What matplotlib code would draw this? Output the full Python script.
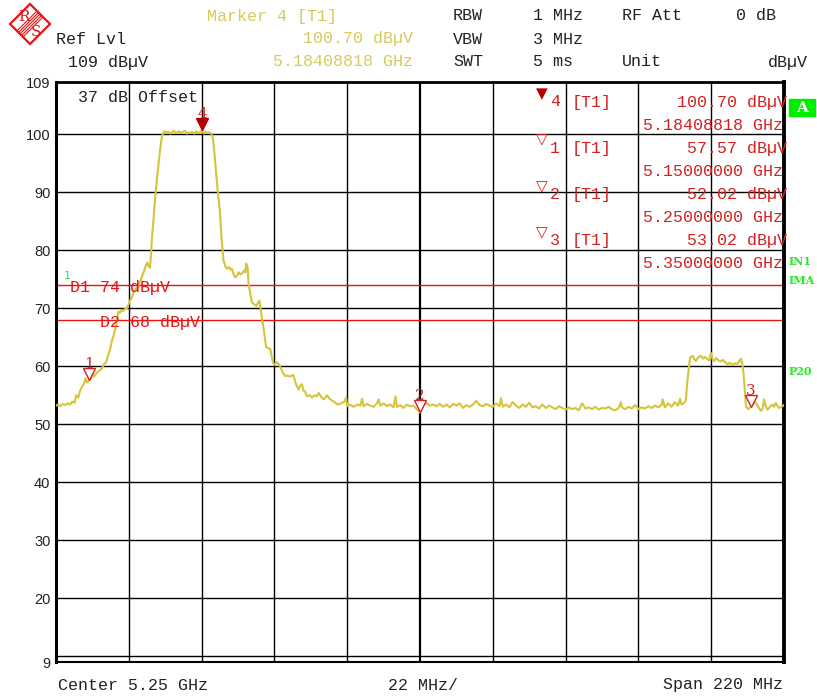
import matplotlib
matplotlib.use("Agg")
import matplotlib.pyplot as plt
import matplotlib.transforms as mtransforms
from matplotlib.patches import Polygon, Rectangle
from matplotlib.lines import Line2D

W, H = 817, 696

# sweep: (frequency MHz, level dBuV)
trace = [
    (5140.0, 53.2), (5140.7, 53.4), (5141.4, 53.1), (5142.1, 53.5), (5142.8, 53.3),
    (5143.5, 53.6), (5144.2, 53.4), (5144.9, 53.9), (5145.6, 53.7), (5146.1, 55.0),
    (5146.7, 54.6), (5147.3, 55.8), (5147.9, 56.5), (5148.5, 57.0), (5148.9, 57.9),
    (5149.4, 57.2), (5150.0, 57.57), (5150.5, 57.9), (5151.0, 58.8), (5151.5, 58.2),
    (5152.0, 58.6), (5152.6, 59.0), (5153.3, 59.3), (5153.9, 59.6), (5154.5, 60.4),
    (5155.1, 60.6), (5155.7, 61.8), (5156.3, 62.8), (5156.9, 64.4), (5157.4, 65.3),
    (5157.9, 66.4), (5158.4, 67.8), (5158.8, 69.4), (5159.3, 69.2), (5159.8, 69.7),
    (5160.3, 69.5), (5160.9, 69.9), (5161.5, 70.0), (5162.0, 70.8), (5162.4, 71.3),
    (5163.0, 72.0), (5163.6, 72.9), (5164.2, 73.4), (5164.8, 73.7), (5165.4, 74.6),
    (5166.0, 75.5), (5166.6, 76.4), (5167.2, 77.4), (5167.6, 77.9), (5168.0, 77.2),
    (5168.4, 77.0), (5168.7, 79.0), (5169.0, 82.2), (5169.5, 85.5), (5170.0, 89.2),
    (5170.5, 92.3), (5171.0, 94.9), (5171.5, 97.5), (5172.0, 99.6), (5172.5, 100.3),
    (5173.0, 100.5), (5173.5, 100.2), (5174.0, 100.4), (5174.5, 100.1), (5175.0, 100.3),
    (5175.6, 100.6), (5176.1, 100.2), (5176.7, 100.3), (5177.2, 100.5), (5177.8, 100.2),
    (5178.3, 100.4), (5178.9, 100.6), (5179.5, 100.1), (5180.0, 100.3), (5180.6, 100.2),
    (5181.2, 100.4), (5181.8, 100.1), (5182.4, 100.5), (5183.0, 100.2), (5183.6, 100.4),
    (5184.088, 100.70), (5184.6, 100.1), (5185.2, 100.4), (5185.8, 100.2), (5186.3, 100.3),
    (5186.9, 100.1), (5187.4, 99.4), (5188.0, 96.0), (5188.5, 92.6), (5189.0, 89.5),
    (5189.5, 86.9), (5190.0, 82.3), (5190.6, 78.3), (5191.2, 77.2), (5191.7, 76.8),
    (5192.3, 77.1), (5192.8, 76.6), (5193.2, 76.8), (5193.7, 75.8), (5194.2, 75.3),
    (5194.7, 75.6), (5195.2, 76.2), (5195.7, 75.8), (5196.2, 76.0), (5196.8, 76.5),
    (5197.2, 76.2), (5197.5, 77.7), (5197.9, 77.0), (5198.2, 74.2), (5198.7, 72.5),
    (5199.2, 71.0), (5199.8, 70.7), (5200.5, 70.4), (5201.0, 70.9), (5201.5, 71.3),
    (5201.9, 69.6), (5202.3, 68.0), (5202.7, 66.7), (5203.1, 65.0), (5203.5, 63.3),
    (5204.1, 63.1), (5204.8, 62.9), (5205.2, 61.6), (5205.6, 60.6), (5206.2, 60.2),
    (5206.7, 60.7), (5207.3, 60.4), (5208.0, 59.6), (5208.6, 58.8), (5209.3, 58.3),
    (5210.0, 58.4), (5210.8, 58.2), (5211.6, 58.5), (5212.0, 58.0), (5212.6, 56.8),
    (5213.3, 56.0), (5213.8, 56.6), (5214.3, 56.9), (5214.8, 55.8), (5215.3, 55.6),
    (5215.9, 54.8), (5216.6, 55.0), (5217.4, 54.6), (5218.1, 55.0), (5218.8, 54.8),
    (5219.4, 55.4), (5220.1, 54.7), (5220.9, 54.3), (5221.4, 54.6), (5221.9, 55.0),
    (5222.6, 54.4), (5223.4, 54.1), (5224.2, 53.8), (5225.1, 53.4), (5225.8, 53.5),
    (5226.5, 53.7), (5227.2, 53.9), (5227.7, 54.6), (5228.0, 53.1), (5228.5, 53.4),
    (5229.0, 53.3), (5230.0, 53.0), (5231.0, 53.4), (5232.0, 53.2), (5232.5, 54.4),
    (5233.0, 53.1), (5234.0, 53.5), (5235.0, 53.2), (5236.0, 53.0), (5237.0, 53.6),
    (5237.5, 54.3), (5238.0, 53.2), (5239.0, 53.6), (5240.0, 53.1), (5241.0, 53.4),
    (5242.0, 52.9), (5242.6, 54.8), (5243.0, 53.0), (5244.0, 53.3), (5245.0, 52.8),
    (5246.0, 53.4), (5247.0, 53.1), (5248.0, 53.2), (5249.0, 52.6), (5250.0, 52.02),
    (5251.0, 53.3), (5252.0, 53.6), (5253.0, 53.2), (5254.0, 53.4), (5255.0, 53.1),
    (5256.0, 53.5), (5257.0, 53.0), (5258.0, 53.4), (5259.0, 52.9), (5260.0, 53.5),
    (5261.0, 53.2), (5262.0, 53.6), (5263.0, 52.8), (5264.0, 53.3), (5265.0, 53.0),
    (5266.0, 53.4), (5267.0, 54.0), (5268.0, 53.3), (5269.0, 53.1), (5270.0, 53.5),
    (5271.0, 53.2), (5272.0, 53.0), (5273.0, 53.6), (5274.0, 53.1), (5274.5, 54.5),
    (5275.0, 53.0), (5276.0, 53.4), (5277.0, 52.9), (5278.0, 53.8), (5279.0, 53.2),
    (5280.0, 52.8), (5281.0, 53.4), (5282.0, 53.0), (5283.0, 53.7), (5284.0, 52.9),
    (5285.0, 53.1), (5286.0, 52.7), (5287.0, 53.4), (5288.0, 52.8), (5289.0, 53.2),
    (5290.0, 52.9), (5291.0, 52.6), (5292.0, 53.1), (5293.0, 52.8), (5294.0, 52.5),
    (5295.0, 52.9), (5296.0, 52.6), (5297.0, 52.8), (5298.0, 52.4), (5299.0, 53.6),
    (5300.0, 52.7), (5301.0, 52.9), (5302.0, 52.6), (5303.0, 53.0), (5304.0, 52.5),
    (5305.0, 52.8), (5306.0, 52.7), (5307.0, 53.0), (5308.0, 52.6), (5309.0, 52.4),
    (5310.0, 52.8), (5310.7, 53.8), (5311.0, 52.9), (5312.0, 52.6), (5313.0, 53.0),
    (5314.0, 52.7), (5315.0, 53.3), (5316.0, 52.6), (5317.0, 52.9), (5318.0, 52.7),
    (5319.0, 53.1), (5320.0, 52.8), (5321.0, 53.2), (5322.0, 52.9), (5323.0, 53.3),
    (5323.3, 54.3), (5324.0, 52.9), (5325.0, 53.6), (5326.0, 53.0), (5327.0, 53.8),
    (5328.0, 53.2), (5328.6, 54.4), (5329.0, 53.4), (5329.7, 53.6), (5330.3, 54.0),
    (5330.8, 57.4), (5331.6, 61.5), (5332.4, 61.8), (5332.9, 61.2), (5333.4, 60.9),
    (5334.0, 61.5), (5334.9, 61.8), (5335.5, 61.3), (5336.0, 61.6), (5336.9, 61.2),
    (5337.4, 61.0), (5337.9, 62.3), (5338.4, 61.2), (5338.9, 60.9), (5339.5, 61.4),
    (5340.2, 61.0), (5340.9, 60.8), (5341.5, 61.1), (5342.2, 60.7), (5342.9, 60.3),
    (5343.6, 60.6), (5344.5, 60.2), (5345.2, 60.5), (5346.0, 60.4), (5346.5, 60.9),
    (5347.0, 61.3), (5347.5, 60.0), (5347.8, 58.6), (5348.5, 53.1), (5349.2, 52.6),
    (5350.0, 53.02), (5350.7, 53.5), (5351.5, 53.7), (5352.2, 53.0), (5353.0, 52.3),
    (5353.5, 52.6), (5354.0, 54.3), (5354.5, 53.1), (5355.0, 52.5), (5355.8, 53.0),
    (5356.5, 53.4), (5357.0, 53.0), (5357.5, 53.7), (5358.0, 53.2), (5358.5, 52.8),
    (5359.2, 53.0), (5360.0, 53.3),
]
trace_freq = [p[0] for p in trace]
trace_level = [p[1] for p in trace]

# marker table, in screen order
marker_ids = ['4', '1', '2', '3']
marker_freq = [5184.08818, 5150.0, 5250.0, 5350.0]
marker_level = [100.70, 57.57, 52.02, 53.02]

display_names = ['D1', 'D2']
display_levels = [74, 68]

y_ticks = [9, 20, 30, 40, 50, 60, 70, 80, 90, 100, 109]
grid_levels = [10, 20, 30, 40, 50, 60, 70, 80, 90, 100]
grid_freqs = [5162, 5184, 5206, 5228, 5250, 5272, 5294, 5316, 5338]

TRACE = '#d6c43a'
YEL = '#d9c95c'
RED = '#d42020'
DRED = '#b00000'
INK = '#222222'
GREEN = '#22ee22'
MONO = 'Liberation Mono'
FS = 12

fig = plt.figure(figsize=(W / 100, H / 100), dpi=100)

def ftext(x, y, s, **kw):
    kw.setdefault('family', MONO)
    kw.setdefault('fontsize', FS)
    kw.setdefault('color', INK)
    fig.text(x / W, 1 - y / H, s, va='center', **kw)

def fxy(x, y):
    return (x / W, 1 - y / H)

ax = fig.add_axes([56 / W, (H - 662) / H, 728 / W, 580 / H])
ax.set_xlim(5140, 5360)
ax.set_ylim(9, 109)

for g in grid_levels:
    ax.axhline(g, color='black', lw=1.0, zorder=1)
for g in grid_freqs:
    ax.axvline(g, color='black', lw=1.6 if g == 5250 else 1.0, zorder=1)

for lvl in display_levels:
    ax.axhline(lvl, color='#ee1111', lw=1.0, zorder=2)

ax.plot(trace_freq, trace_level, color=TRACE, lw=1.5, zorder=3)

# markers sitting on the trace
up = mtransforms.offset_copy(ax.transData, fig=fig, x=0, y=6, units='dots')
for mid, f, v in zip(marker_ids, marker_freq, marker_level):
    filled = mid == '4'
    ax.plot([f], [v], marker='v', ms=8, transform=up, zorder=5,
            mfc=DRED if filled else 'white', mec=DRED if filled else RED, mew=1.0)
    ax.annotate(mid, (f, v), xytext=(0, 16), textcoords='offset pixels',
                ha='center', va='center', color=RED, fontsize=11, family='DejaVu Serif')

ax.set_xticks([])
ax.set_yticks(y_ticks)
ax.set_yticklabels([str(t) for t in y_ticks], family='Liberation Sans', fontsize=10.5, color=INK)
ax.tick_params(axis='y', length=0, pad=4)
for side, lw in [('left', 2.2), ('right', 2.8), ('top', 2.0), ('bottom', 1.5)]:
    ax.spines[side].set_linewidth(lw)

# R&S logo
cx, cy, r = 30, 24, 20
fig.add_artist(Polygon([fxy(cx, cy - r), fxy(cx + r, cy), fxy(cx, cy + r), fxy(cx - r, cy)],
                       closed=True, fill=False, edgecolor='#ee1111', lw=1.6,
                       transform=fig.transFigure))
for d in (-3, -1.5, 0, 1.5, 3):
    fig.add_artist(Line2D([(cx + 10 + d) / W, (cx - 10 + d) / W],
                          [1 - (cy - 10 + d) / H, 1 - (cy + 10 + d) / H],
                          color='#ee1111', lw=0.8, transform=fig.transFigure))
ftext(24, 17, 'R', color='#ee1111', fontsize=11, family='DejaVu Serif', ha='center')
ftext(36, 32, 'S', color='#ee1111', fontsize=11, family='DejaVu Serif', ha='center')

# header block
ftext(207, 16, 'Marker 4 [T1]', color=YEL)
ftext(453, 16, 'RBW')
ftext(533, 16, '1 MHz')
ftext(622, 16, 'RF Att')
ftext(736, 16, '0 dB')
ftext(56, 39, 'Ref Lvl')
ftext(413, 39, '100.70 dBµV', color=YEL, ha='right')
ftext(453, 39, 'VBW')
ftext(533, 39, '3 MHz')
ftext(68, 62, '109 dBµV')
ftext(413, 62, '5.18408818 GHz', color=YEL, ha='right')
ftext(453, 62, 'SWT')
ftext(533, 62, '5 ms')
ftext(622, 62, 'Unit')
ftext(808, 62, 'dBµV', ha='right')

ftext(78, 97, '37 dB Offset')

# marker table
for i, (mid, f, v) in enumerate(zip(marker_ids, marker_freq, marker_level)):
    y0 = 102 + i * 46.3
    tri = '▼' if mid == '4' else '▽'
    ftext(542, y0 - 8, tri, color=DRED if mid == '4' else RED, fontsize=11,
          family='DejaVu Sans', ha='center')
    ftext(550, y0, mid, color=RED)
    ftext(572, y0, '[T1]', color=RED)
    ftext(787, y0, f'{v:.2f} dBµV', color=RED, ha='right')
    ftext(783, y0 + 23, f'{f / 1000:.8f} GHz', color=RED, ha='right')

# display line labels
for name, lvl, x0 in zip(display_names, display_levels, [70, 100]):
    ypx = 82 + (109 - lvl) * 5.8
    ftext(x0, ypx + 3, f'{name} {lvl} dBµV', color='#ee1111')
ftext(64, 276, '1', color=GREEN, fontsize=8, family='DejaVu Sans')

# side annotations
fig.add_artist(Rectangle(fxy(789, 116), 26 / W, 17 / H, color='#00ee00',
                         transform=fig.transFigure))
ftext(802, 108, 'A', color='white', fontsize=11, family='DejaVu Serif',
      ha='center', weight='bold')
ftext(789, 262, 'IN1', color=GREEN, fontsize=8, family='DejaVu Serif', weight='bold')
ftext(789, 280, 'IMA', color=GREEN, fontsize=8, family='DejaVu Serif', weight='bold')
ftext(789, 372, 'P20', color=GREEN, fontsize=8, family='DejaVu Serif', weight='bold')

# footer
ftext(58, 685, 'Center 5.25 GHz')
ftext(388, 685, '22 MHz/')
ftext(783, 685, 'Span 220 MHz', ha='right')

fig.savefig('out.png', dpi=100, facecolor='white')
